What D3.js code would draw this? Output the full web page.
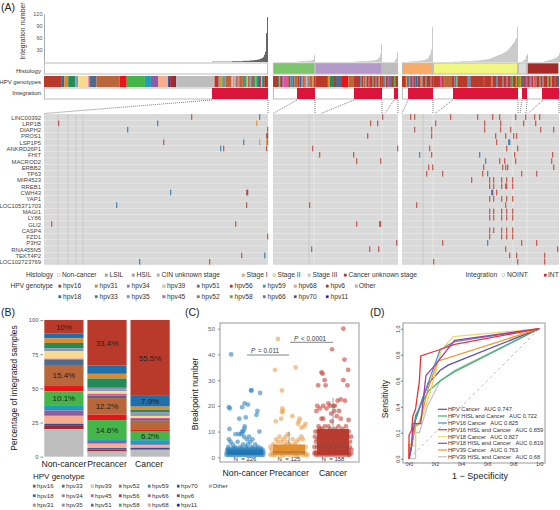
<!DOCTYPE html>
<html><head><meta charset="utf-8">
<script src="https://cdn.jsdelivr.net/npm/d3@7"></script>
<style>html,body{margin:0;padding:0;background:#fff}svg{display:block}text{font-family:"Liberation Sans",Arial,sans-serif;white-space:pre}</style>
</head><body><svg id="c" width="560" height="510"></svg>
<script>
// ---------- shared categories ----------
const genotypes=["16","18","31","33","34","35","39","45","51","52","56","58","59","66","68","70","6","11","Other"];
const genoColors=["#B93A2B","#1F6FAB","#DD8B2C","#238B57","#8E86B8","#7E9DB8","#FBD98C","#E0559B","#4F6B8C","#B9663A","#E8141A","#44B549","#1E9DB8","#8E5BA6","#F6AE8E","#3B4A94","#A32A2E","#1010DD","#BDBDBD"];
const rowNames=["LINC00392","LRP1B","DIAPH2","PROS1","LSP1P5","ANKRD26P1","FHIT","MACROD2","ERBB2","TP63","MIR4523","RREB1","CWH43","YAP1","LOC105371703","MAGI1","LY86","GLI2","CASP4","FZD1","P3H2","RNA455N5","TEKT4P2","LOC102723769"];
// Panel A: sample counts per group
const groupSizes=[224,125,157];
const histologySegs=[
 [["Non-cancer",224]],
 [["LSIL",42],["HSIL",67],["CIN",16]],
 [["Stage I",31],["Stage II",85],["Stage III",9],["Cancer unknown",32]]];
const histologyColors={"Non-cancer":"#FFFFFF","LSIL":"#7DC46C","HSIL":"#B39AC8","CIN":"#BDBDBD","Stage I":"#F8AC6C","Stage II":"#EFF781","Stage III":"#DCDCDC","Cancer unknown":"#A52A2A"};
const integrationSegs=[
 [[0,168],[1,56]],
 [[0,24],[1,18],[0,39],[1,28],[0,12],[1,4]],
 [[0,6],[1,25],[0,20],[1,65],[0,4],[1,5],[0,15],[1,17]]];
const genoStrip0=[["16",17],["18",3],["31",4],["33",7],["35",3],["39",10],["45",1],["51",7],["52",23],["56",7],["58",18],["59",6],["66",7],["68",10],["70",2],["6",5],["11",1],["Other",38],
 ["16",4],["51",1],["31",2],["58",1],["33",1],["16",1],["59",1],["52",6],["39",1],["45",1],["35",1],["68",1],["16",1],["51",1],["31",1],["66",1],["52",3],["16",1],["33",1],["18",1],["58",1],["68",1],["52",2],["35",1],["59",1],["16",1],["51",1],["33",1],["31",1],["58",1],["66",1],["18",1],["16",2],["68",1],["59",1],["33",1],["52",1],["6",1],["16",1],["18",1]];
const genoStrip1=[["16",5],["33",1],["31",1],["16",2],["66",1],["45",5],["16",2],["59",2],["51",2],["52",3],["16",2],["18",2],["66",1],["52",2],["16",1],["59",1],["68",1],["16",1],["51",1],["52",3],["31",1],["16",2],
 ["16",12],["31",2],["33",4],["16",2],["51",5],["56",7],["52",5],["16",7],["18",1],["16",2],["52",2],["59",1],["16",2],["56",1],["16",3],["33",1],["16",2],["51",1],["16",2],["31",1],["16",2],
 ["16",2],["18",1],["31",1],["16",2],["66",1],["16",1],["51",1],["18",1],["16",2],["58",1],["52",1],["16",2]];
const genoStrip2=[["16",3],["51",1],["31",1],["16",1],["18",1],["58",1],["16",2],["66",1],["16",2],["18",2],["16",3],["52",1],["59",1],["16",3],["33",1],["16",4],["51",1],["16",2],
 ["16",6],["45",2],["16",1],["66",1],["52",7],["16",3],["66",2],["58",1],["16",10],["18",1],["59",1],["51",1],["16",8],["18",1],["16",3],["33",1],["16",7],["52",1],["16",4],["18",1],["16",5],["51",1],["16",3],["66",1],["16",3],["18",1],["58",1],["16",3],["31",1],["16",1],
 ["58",2],["31",1],["51",2],["16",2],["18",1],["66",1],
 ["16",2],["18",1],["66",1],["16",2],["45",1],["56",1],["18",1],["16",3],["33",1],["16",2],["66",1],["16",4],["58",1],["16",2],["31",1],["16",3],["51",1],["16",2],["18",1]];
// Panel A top bars: [first sample, values]
const barsGroup0=[[168,[1,1,1,1,1,1,1,1,1,1,1,1,1,1,1,1,1,1,1,1,2,2,2,2,2,2,2,2,2,2,2,3,3,3,3,3,3,3,4,4,4,4,5,5,5,6,6,7,8,9,10,13,18,26,72,112]]];
const barsGroup1=[
 [24,[1,1,1,2,2,2,2,2,2,3,3,3,3,4,4,5,7,17]],
 [81,[1,1,1,1,1,2,2,2,2,2,2,2,2,3,3,3,3,3,4,4,4,5,6,7,9,12,20,45]],
 [121,[2,5,9,25]]];
const barsGroup2=[
 [6,[1,1,1,1,2,2,2,2,2,3,3,3,3,4,4,5,5,6,7,8,11,16,21,31,87]],
 [51,[1,1,1,1,1,1,1,1,2,2,2,2,2,2,2,2,2,2,3,3,3,3,3,3,4,4,4,4,5,5,5,6,6,6,7,7,8,9,10,11,12,13,14,15,16,17,18,19,20,21,23,24,25,27,29,31,34,37,40,44,47,50,56,60,87]],
 [120,[2,3,5,8,15,20]],
 [141,[1,2,2,3,3,4,5,5,6,7,8,9,10,11,13,15,22]]];
// Panel A matrix marks: [row, sample, genotype]
const marksGroup0=[[0,147,"16"],[0,215,"18"],[1,14,"16"],[1,113,"18"],[1,212,"31"],[2,83,"18"],[2,223,"16"],[3,222,"16"],[3,223,"70"],[4,119,"16"],[4,199,"18"],[4,215,"31"],[4,222,"31"],[4,223,"33"],[5,176,"18"],[5,179,"16"],[5,222,"16"],[12,126,"18"],[12,202,"16"],[12,203,"70"],[14,72,"18"],[14,202,"16"],[17,7,"16"],[17,191,"16"],[19,223,"16"],[22,197,"16"],[22,220,"18"],[23,95,"18"],[23,165,"16"]];
const marksGroup1=[[0,109,"16"],[1,97,"16"],[1,104,"16"],[3,94,"16"],[5,39,"16"],[5,124,"16"],[6,46,"16"],[6,80,"16"],[7,83,"16"],[7,107,"16"],[14,36,"16"],[17,83,"16"],[17,106,"16"],[17,107,"16"],[20,123,"16"],[21,38,"16"],[21,96,"16"],[21,105,"16"]];
const marksGroup2=[[0,8,"16"],[0,12,"16"],[0,48,"16"],[0,75,"16"],[0,90,"16"],[0,97,"16"],[0,113,"16"],[0,123,"16"],[0,132,"16"],[0,137,"16"],
 [1,33,"16"],[1,82,"16"],[1,98,"16"],[1,121,"16"],[1,133,"16"],
 [2,12,"16"],[2,29,"16"],[2,82,"16"],[2,98,"16"],[2,108,"16"],[2,138,"16"],[2,151,"16"],
 [3,29,"16"],[3,93,"16"],[3,103,"16"],[3,111,"16"],[3,114,"16"],
 [4,94,"16"],[4,106,"18"],[4,107,"18"],
 [5,27,"16"],[5,104,"16"],[5,115,"16"],
 [6,17,"18"],[6,29,"16"],[6,77,"18"],[6,112,"16"],[6,150,"16"],
 [7,83,"18"],[7,97,"16"],[7,102,"16"],[7,113,"16"],[7,149,"16"],
 [8,26,"16"],[8,30,"16"],[8,81,"16"],[8,100,"16"],[8,103,"16"],[8,105,"16"],[8,151,"16"],
 [9,24,"16"],[9,40,"16"],[9,80,"16"],[9,85,"18"],[9,119,"16"],[9,134,"16"],
 [10,69,"16"],[10,87,"16"],[10,91,"16"],[10,99,"16"],[10,104,"16"],[10,110,"16"],
 [11,87,"16"],[11,91,"16"],[11,99,"16"],[11,103,"16"],[11,104,"16"],[11,110,"16"],
 [12,89,"18"],[12,90,"70"],[12,94,"16"],
 [13,87,"16"],[13,91,"16"],[13,99,"16"],[13,104,"16"],[13,110,"16"],
 [14,14,"16"],[14,103,"16"],
 [15,87,"16"],[15,91,"16"],[15,99,"16"],[15,104,"16"],[15,110,"16"],
 [16,87,"16"],[16,91,"16"],[16,99,"16"],[16,104,"16"],[16,110,"16"],
 [18,87,"16"],[18,91,"16"],[18,99,"16"],[18,104,"16"],[18,110,"16"],
 [19,87,"16"],[19,99,"16"],[19,104,"16"],[19,110,"16"],
 [20,40,"16"],[20,85,"18"],[20,119,"16"],[20,134,"16"],
 [21,103,"16"],[21,155,"16"],
 [22,107,"16"],[22,114,"16"],[22,142,"16"],
 [23,31,"16"],[23,115,"16"],[23,142,"16"]];
// Panel B
const stageNames=["Non-cancer","Precancer","Cancer"];
const shareNonCancer=[10,3.4,3.4,3.9,1.2,1,5.4,.7,3.9,15.4,3.9,10.1,3.9,3.9,5.8,1,3,0,20.1];
const sharePrecancer=[33.4,6,3.4,6.8,1,1.4,2,1.4,1.7,12.2,3.9,14.6,.7,2,3.2,1,1.5,0,3.8];
const shareCancer=[55.5,7.9,2.3,1.8,1.2,1.5,1.5,.7,1.3,6.3,1.7,6.2,3,.8,1.8,1,.3,.2,5];
const shareLabels=[[0,"10"],[9,"15.4"],[11,"10.1"]];
const shareLabelsPre=[[0,"33.4"],[9,"12.2"],[11,"14.6"]];
const shareLabelsCan=[[0,"55.5"],[1,"7.9"],[11,"6.2"]];
// Panel C: [spread %, breakpoints]
const pointsNonCancer=[[-75,40],[35,26],[33,26],[82,25],[-2,21],[16,20.5],[-15,19.5],[-87,19.5],[-82,19],[67,18],[62,16.5],[-31,15],[4,15.5],[78,10],[-84,11],[-2,12],[-4,11],[-9,10],[-16,10],[-33,9],[-51,9],[22,8],[40,7],[-87,7],[-78,6],[-67,5],[-20,9],[-5,8],[10,7],[-40,6],[28,6],[55,5],[-10,5],[15,5],[-55,4],[-25,4],[5,4],[35,4],[70,4],[-90,4],[-65,3.5],[-45,3.5],[-18,3.5],[12,3.5],[42,3.5],[60,3.5],[85,3.5],[-92,3],
[-95,3],[-85,3],[-75,3],[-65,3],[-55,3],[-45,3],[-35,3],[-25,3],[-15,3],[-5,3],[5,3],[15,3],[25,3],[35,3],[45,3],[55,3],[65,3],[75,3],[85,3],[95,3],
[-98,2],[-88,2],[-78,2],[-68,2],[-58,2],[-48,2],[-38,2],[-28,2],[-18,2],[-8,2],[2,2],[12,2],[22,2],[32,2],[42,2],[52,2],[62,2],[72,2],[82,2],[92,2],[100,2],
[-100,1],[-90,1],[-80,1],[-70,1],[-60,1],[-50,1],[-40,1],[-30,1],[-20,1],[-10,1],[0,1],[10,1],[20,1],[30,1],[40,1],[50,1],[60,1],[70,1],[80,1],[90,1],[98,1]];
const pointsPrecancer=[[-60,46],[-76,34],[36,35],[-38,26],[-36,19],[-33,18],[-38,17.5],[18,16],[-42,15],[-71,14],[58,15],[53,14],[49,13],[89,13],[82,12],[67,11.5],[-5,9],[-18,8],[-51,8],[-69,7],[67,8],[53,7],[-30,7],[-60,6],[-40,6],[-10,6],[20,7],[40,6],[75,7],[-85,5],[-20,5],[5,5],[30,5],[-100,4],[-70,4],[-45,4],[-5,4],[60,4],[90,4],
[-95,3],[-55,3],[-30,3],[15,3],[45,3],[70,3],[-80,2],[-60,2],[-35,2],[-10,2],[20,2],[50,2],[80,2],[-90,1.5],[-65,1.5],[-40,1.5],[-15,1.5],[10,1.5],[35,1.5],[60,1.5],[85,1.5],[-100,1],[-75,1],[-50,1],[-25,1],[0,1],[25,1],[50,1],[75,1],[100,1],[-85,1],[-35,1],[40,1],[90,1]];
const pointsCancer=[[56,50],[-5,42],[62,38],[82,34],[-62,33],[-56,32.5],[-45,30],[-80,28],[-40,28],[56,30],[78,28],[42,22.5],[65,22],[25,22],[-25,21],[-53,20],[-71,19],[2,20],[7,18],[-16,20],[-62,15],[-53,15],[20,16],[42,15],[84,14.5],[-7,14],[-25,12],[-71,11],[-85,20],[-35,19],[10,20],[33,18],[-90,18],[-10,17],[-78,12],[-60,11],[-45,12],[-15,11],[12,11],[30,12],[50,11],[70,12],
[-95,10],[-80,10],[-65,10],[-50,9],[-35,10],[-20,9],[-5,10],[10,9],[25,10],[40,9],[55,10],[70,9],[85,10],[98,8],[-98,8],[-85,7],[-70,8],[-55,7],[-40,8],[-25,7],[-10,8],[5,7],[20,8],[35,7],[50,8],[65,7],[80,8],[92,6],[-92,6],[-75,5],[-60,6],[-45,5],[-30,6],[-15,5],[0,6],[15,5],[30,6],[45,5],[60,6],[75,5],[90,4],[-100,4],[-85,4],[-68,4],[-52,3],[-38,4],[-22,3],[-8,4],[8,3],[22,4],[38,3],[52,4],[68,3],[85,3],[100,3],[-95,2],[-78,2],[-62,2],[-46,2],[-30,2],[-14,2],[2,2],[18,2],[34,2],[50,2],[66,2],[82,2],[98,1.5],[-100,1.5],[-88,1.5],[-72,1.5],[-56,1.5],[-40,1.5],[-24,1.5],[-8,1.5],[8,1.5],[24,1.5],[40,1.5],[56,1.5],[72,1.5],[88,1],[-92,1],[-76,1],[-60,1],[-44,1],[-28,1],[-12,1],[4,1],[20,1],[36,1],[52,1],[68,1],[84,1]];
const boxStats=[[1,1.5,3,3.5],[1,2,5,10],[1,4,11,23]];
const countLabels=["226","125","158"];
// Panel D
const rocNames=["HPV Cancer   AUC 0.747","HPV HISL and Cancer   AUC 0.722","HPV16 Cancer   AUC 0.825","HPV16 HISL and Cancer   AUC 0.859","HPV18 Cancer   AUC 0.827","HPV18 HISL and Cancer   AUC 0.819","HPV39 Cancer   AUC 0.763","HPV39 HISL and Cancer   AUC 0.68"];
const rocColors=["#5B4FB5","#3CB371","#4A90C8","#E8343A","#E8D86A","#A040A8","#F0932B","#C4C4C4"];
const rocHpv=[[0,0],[.02,.1],[.03,.2],[.05,.3],[.1,.45],[.15,.58],[.24,.68],[.3,.72],[1,1]];
const rocHpvHisl=[[0,0],[.03,.15],[.05,.33],[.1,.43],[.15,.52],[.24,.6],[.35,.67],[1,1]];
const rocHpv16=[[0,0],[.02,.1],[.05,.3],[.1,.45],[.16,.62],[.24,.84],[.35,.9],[1,1]];
const rocHpv16Hisl=[[0,0],[0,.18],[.02,.22],[.03,.33],[.05,.38],[.08,.6],[.09,.79],[.24,.84],[.35,.88],[1,1]];
const rocHpv18=[[0,0],[0,.1],[.05,.1],[.05,.25],[.1,.32],[.16,.5],[.25,.84],[.34,.94],[1,1]];
const rocHpv18Hisl=[[0,0],[.02,.09],[.03,.27],[.09,.27],[.13,.64],[.2,.72],[.35,.91],[1,1]];
const rocHpv39=[[0,0],[0,.11],[.02,.11],[.05,.25],[.08,.27],[.15,.55],[.22,.75],[1,1]];
const rocHpv39Hisl=[[0,0],[.05,0],[.05,.2],[.08,.2],[.14,.4],[.24,.6],[.35,.68],[1,1]];
const rocCurves=[rocHpv,rocHpvHisl,rocHpv16,rocHpv16Hisl,rocHpv18,rocHpv18Hisl,rocHpv39,rocHpv39Hisl];
// Legends
const histLegend=[["Non-cancer",57.5],["LSIL",105],["HSIL",132],["CIN unknown stage",157],["Stage I",242],["Stage II",273],["Stage III",308],["Cancer unknown stage",344]];
const histLegendKeys=["Non-cancer","LSIL","HSIL","CIN","Stage I","Stage II","Stage III","Cancer unknown"];
const genoLegendRow1=["16","31","34","39","51","56","59","68","6","Other"];
const genoLegendRow2=["18","33","35","45","52","58","66","70","11"];
const genoLegendX=[58.5,95,127,162.6,197,230,263,294,326,355];
const bLegendRows=[["16","33","39","52","59","70","Other"],["18","34","45","56","66","6"],["31","35","51","58","68","11"]];
const bLegendX=[33,62,91,119,148,177,209];

// ---------- drawing ----------
const svg=d3.select("#c");
const col=d3.scaleOrdinal(genotypes,genoColors);
const gLabel=k=>k==="Other"?"Other":"hpv"+k;
const txt=(x,y,s,size,o={})=>svg.append("text").attr("x",x).attr("y",y).text(s).attr("font-size",size).attr("fill",o.fill||"#333").attr("text-anchor",o.anchor||"start").attr("transform",o.rot?`rotate(${o.rot} ${x} ${y})`:null).attr("font-style",o.style||null);
txt(1,11,"(A)",10.5,{fill:"#222"});txt(1,316,"(B)",10.5,{fill:"#222"});txt(185,316,"(C)",10.5,{fill:"#222"});txt(370,316,"(D)",10.5,{fill:"#222"});

// Panel A
const groupX=[[44,268],[273,398],[402,559]];
const sampleScales=groupX.map((r,i)=>d3.scaleLinear().domain([0,groupSizes[i]]).range(r));
const yTop=d3.scaleLinear().domain([0,120]).range([62,14]);
const tracks={hist:[63,74],geno:[76,87],integ:[88,99]};
[barsGroup0,barsGroup1,barsGroup2].forEach((g,i)=>{
 const sx=sampleScales[i];
 g.forEach(([s,vals])=>vals.forEach((v,j)=>{
  svg.append("rect").attr("x",sx(s+j)).attr("width",i===0?1:0.6).attr("y",yTop(v)).attr("height",yTop(0)-yTop(v))
   .attr("fill",i===0?"#666":"#a8a8a8");
 }));
});
const axT=svg.append("g").attr("transform","translate(44,0)").call(d3.axisLeft(yTop).tickValues([30,60,90,120]).tickSize(0));
axT.select(".domain").attr("stroke","#aaa");axT.selectAll("text").attr("font-size",5.5).attr("fill","#555").attr("dx",1.5);
txt(25,31,"Integration number",6.8,{anchor:"middle",rot:-90});
txt(41,72.5,"Histology",6.1,{anchor:"end"});txt(41,83.5,"HPV genotypes",6,{anchor:"end"});txt(41,94.5,"Integration",6.1,{anchor:"end"});
const stack=(segs)=>{let c=0;return segs.map(d=>{const o={k:d[0],a:c,b:c+d[1]};c+=d[1];return o;});};
histologySegs.forEach((segs,i)=>stack(segs).forEach(d=>{
 svg.append("rect").attr("x",sampleScales[i](d.a)+.4).attr("width",sampleScales[i](d.b)-sampleScales[i](d.a)-.8).attr("y",tracks.hist[0]).attr("height",11).attr("fill",histologyColors[d.k]).attr("stroke","#bbb").attr("stroke-width",1);
}));
[genoStrip0,genoStrip1,genoStrip2].forEach((st,i)=>{
 const segs=stack(st),tot=segs[segs.length-1].b;
 const sx=d3.scaleLinear().domain([0,tot]).range(groupX[i]);
 svg.selectAll(null).data(segs).enter().append("rect").attr("x",d=>sx(d.a)).attr("width",d=>sx(d.b)-sx(d.a)).attr("y",tracks.geno[0]).attr("height",11).attr("fill",d=>col(d.k));
});
integrationSegs.forEach((segs,i)=>{
 const sx=sampleScales[i];
 svg.append("rect").attr("x",groupX[i][0]+.4).attr("width",groupX[i][1]-groupX[i][0]-.8).attr("y",tracks.integ[0]).attr("height",11).attr("fill","#fff").attr("stroke","#bbb");
 stack(segs).filter(d=>d.k===1).forEach(d=>svg.append("rect").attr("x",sx(d.a)).attr("width",sx(d.b)-sx(d.a)).attr("y",tracks.integ[0]).attr("height",11).attr("fill","#DC143C"));
});
// connector lines between integrated blocks and matrix sections
const matrixEdges=[[[0,56]],[[0,42],[48,109],[112,125]],[[0,31],[33,116],[118,124],[126,157]]];
const intBlocks=[[[168,224]],[[24,42],[81,109],[121,125]],[[6,31],[51,116],[120,125],[141,157]]];
intBlocks.forEach((bl,i)=>{
 const sx=sampleScales[i];
 bl.forEach((b,j)=>{
  const m=matrixEdges[i][j],tot=i===0?56:groupSizes[i];
  const mx=d3.scaleLinear().domain([0,tot]).range(groupX[i]);
  [[b[0],m[0]],[b[1],m[1]]].forEach(([a,c])=>svg.append("line").attr("x1",sx(a)).attr("y1",100).attr("x2",mx(c)).attr("y2",113.5).attr("stroke","#444").attr("stroke-width",.7).attr("stroke-dasharray","1 1"));
 });
});
// matrix
const yRow=d3.scaleBand().domain(d3.range(rowNames.length)).range([114.2,265.2]);
rowNames.forEach((n,i)=>txt(41,yRow(i)+yRow.bandwidth()/2+2.2,n,5.9,{anchor:"end",fill:"#444"}));
const gridLines=[[14,24,32,39],[36,41,109],[21,31,111,125]];
groupX.forEach((r,i)=>{
 svg.append("rect").attr("x",r[0]).attr("width",r[1]-r[0]).attr("y",114.2).attr("height",151).attr("fill","#EDEDED");
 rowNames.forEach((n,ri)=>svg.append("rect").attr("x",r[0]).attr("width",r[1]-r[0]).attr("y",yRow(ri)).attr("height",yRow.bandwidth()-.6).attr("fill","#D9D9D9"));
 const sx=sampleScales[i];
 gridLines[i].forEach((g,k)=>{const light=(i>0&&k>0);svg.append("line").attr("x1",sx(g)).attr("x2",sx(g)).attr("y1",114).attr("y2",265).attr("stroke",light?"#F2F2F2":"#BDBDBD").attr("stroke-width",.6);});
});
[marksGroup0,marksGroup1,marksGroup2].forEach((g,i)=>{
 const sx=sampleScales[i];
 svg.selectAll(null).data(g).enter().append("rect").attr("x",d=>sx(d[1])).attr("width",1.3).attr("y",d=>yRow(d[0])).attr("height",yRow.bandwidth()-.6).attr("fill",d=>col(d[2])).attr("opacity",.75);
});
// Legends A
const sq=(x,y,c,st)=>svg.append("rect").attr("x",x).attr("y",y-2.6).attr("width",2.6).attr("height",2.6).attr("fill",c).attr("stroke",st||"#999").attr("stroke-width",.4);
txt(53,277,"Histology",6.6,{anchor:"end"});
histLegend.forEach((d,i)=>{sq(d[1],276.5,histologyColors[histLegendKeys[i]]);txt(d[1]+4.5,277,d[0],6.7);});
txt(465.5,277,"Integration",6.7);sq(502,276.5,"#fff");txt(507,277,"NOINT",6.7);sq(544,276.5,"#DC143C");txt(548,277,"INT",6.7);
txt(53,288,"HPV genotype",6.6,{anchor:"end"});
genoLegendRow1.forEach((k,i)=>{sq(genoLegendX[i],287.5,col(k));txt(genoLegendX[i]+(k==="Other"?3.7:4.5),288,gLabel(k),6.7);});
genoLegendRow2.forEach((k,i)=>{sq(genoLegendX[i],298,col(k));txt(genoLegendX[i]+4.5,298.5,gLabel(k),6.7);});

// Panel B
const xB=d3.scaleBand().domain(stageNames).range([43,171]).paddingInner(.09).paddingOuter(.03);
const yB=d3.scaleLinear().domain([0,100]).range([456.7,320]);
[shareNonCancer,sharePrecancer,shareCancer].forEach((vals,i)=>{
 const tot=d3.sum(vals);let c=0;
 const labels=[shareLabels,shareLabelsPre,shareLabelsCan][i];
 vals.forEach((v,j)=>{
  const top=100-c/tot*100,bot=100-(c+v)/tot*100;c+=v;
  svg.append("rect").attr("x",xB(stageNames[i])).attr("width",xB.bandwidth()).attr("y",yB(top)).attr("height",yB(bot)-yB(top)).attr("fill",genoColors[j]);
  const lab=labels.find(l=>l[0]===j);
  if(lab)txt(xB(stageNames[i])+xB.bandwidth()/2,yB((top+bot)/2)+2.8,lab[1]+"%",8,{anchor:"middle",fill:"#222"});
 });
 txt(xB(stageNames[i])+xB.bandwidth()/2+(i===2?-1:0),467,stageNames[i],8.7,{anchor:"middle",fill:"#222"});
});
const axB=svg.append("g").attr("transform","translate(43,0)").call(d3.axisLeft(yB).tickValues([0,25,50,75,100]).tickSize(2.5));
axB.select(".domain").remove();axB.selectAll("line").attr("stroke","#888");axB.selectAll("text").attr("font-size",5.8).attr("fill","#555").attr("dx",1);
txt(17,388,"Percentage of integrated samples",8.4,{anchor:"middle",rot:-90,fill:"#222"});
txt(33,479,"HPV genotype",8,{fill:"#222"});
bLegendRows.forEach((row,ri)=>row.forEach((k,i)=>{
 const y=[488,497.5,507][ri];sq(bLegendX[i],y-.5,col(k));txt(bLegendX[i]+(k==="Other"?3.5:4),y,gLabel(k),6.1);
}));

// Panel C
const xC=d3.scalePoint().domain(stageNames).range([245,333]);
const yC=d3.scaleLinear().domain([0,50]).range([457.3,328.7]);
svg.append("rect").attr("x",220).attr("y",323).attr("width",139).attr("height",139).attr("fill","#fff").attr("stroke","#999").attr("stroke-width",1);
const ptColors=["#2E86C1","#EBA04E","#C4453A"],boxColors=["#1F78B4","#DF8A25","#B5362A"];
[pointsNonCancer,pointsPrecancer,pointsCancer].forEach((pts,i)=>{
 const c=xC(stageNames[i]),b=boxStats[i],hw=16;
 const sp=d3.scaleLinear().domain([-100,100]).range([c-18.5,c+18.5]);
 svg.selectAll(null).data(pts).enter().append("circle").attr("cx",d=>sp(d[0])).attr("cy",d=>yC(d[1])).attr("r",2.4).attr("fill",ptColors[i]).attr("opacity",.6);
 svg.append("line").attr("x1",c).attr("x2",c).attr("y1",yC(b[2])).attr("y2",yC(b[3])).attr("stroke","#777").attr("stroke-width",.7);
 svg.append("rect").attr("x",c-(i===0?18:hw)).attr("width",2*(i===0?18:hw)).attr("y",yC(b[2])).attr("height",yC(b[0])-yC(b[2])).attr("fill",boxColors[i]).attr("opacity",.93);
 svg.append("line").attr("x1",c-hw).attr("x2",c+hw).attr("y1",yC(b[1])).attr("y2",yC(b[1])).attr("stroke","#555").attr("stroke-width",.5);
 txt(c,461,"N  = "+countLabels[i],6,{anchor:"middle",fill:"#333"});
 txt(c,476,stageNames[i],8.7,{anchor:"middle",fill:"#222"});
});
const axC=svg.append("g").attr("transform","translate(220,0)").call(d3.axisLeft(yC).tickValues([0,10,20,30,40,50]).tickSize(2));
axC.select(".domain").remove();axC.selectAll("line").attr("stroke","#888");axC.selectAll("text").attr("font-size",6.2).attr("fill","#666");
txt(198,394,"Breakpoint number",8.6,{anchor:"middle",rot:-90,fill:"#222"});
svg.append("line").attr("x1",247).attr("x2",289).attr("y1",355).attr("y2",355).attr("stroke","#666").attr("stroke-width",.8);
svg.append("line").attr("x1",290).attr("x2",333).attr("y1",342.3).attr("y2",342.3).attr("stroke","#666").attr("stroke-width",.8);
txt(251,353,"P",6.4,{style:"italic"});txt(258,353,"= 0.011",6.4);
txt(294,341,"P",6.4,{style:"italic"});txt(301,341,"< 0.0001",6.4);

// Panel D
const xD=d3.scaleLinear().domain([0,1]).range([409,539.3]);
const yD=d3.scaleLinear().domain([0,1]).range([458.7,328.7]);
svg.append("rect").attr("x",403).attr("y",323).attr("width",142).attr("height",140).attr("fill","#fff").attr("stroke","#999").attr("stroke-width",1);
svg.append("line").attr("x1",xD(0)).attr("y1",yD(0)).attr("x2",xD(1)).attr("y2",yD(1)).attr("stroke","#aaa").attr("stroke-width",.8).attr("stroke-dasharray","3 3");
const ln=d3.line().x(d=>xD(d[0])).y(d=>yD(d[1]));
[7,1,0,2,4,6,5,3].forEach(i=>svg.append("path").attr("d",ln(rocCurves[i])).attr("fill","none").attr("stroke",rocColors[i]).attr("stroke-width",1.3));
const axDx=svg.append("g").attr("transform","translate(0,463)").call(d3.axisBottom(xD).tickValues([0,.2,.4,.6,.8,1]).tickFormat(d3.format(".1f")).tickSize(2));
axDx.select(".domain").remove();axDx.selectAll("line").attr("stroke","#777");axDx.selectAll("text").attr("font-size",5.3).attr("fill","#444").attr("dy",-1.5).attr("y",4);
const axDy=svg.append("g").attr("transform","translate(403,0)").call(d3.axisLeft(yD).tickValues([0,.2,.4,.6,.8,1]).tickFormat(d3.format(".1f")).tickSize(2));
axDy.select(".domain").remove();axDy.selectAll("line").attr("stroke","#777");
axDy.selectAll("text").attr("font-size",5.3).attr("fill","#444").attr("text-anchor","middle").attr("x",0).attr("y",-3.5).attr("dy",0).attr("transform","rotate(-90)");
txt(480,479,"1 − Specificity",9,{anchor:"middle",fill:"#222"});
txt(388,399,"Sensitivity",8.5,{anchor:"middle",rot:-90,fill:"#222"});
rocNames.forEach((n,i)=>{
 const y=[409.3,416,423,429.7,436.7,443.3,450,456.7][i];
 svg.append("line").attr("x1",438).attr("x2",447).attr("y1",y).attr("y2",y).attr("stroke",rocColors[i]).attr("stroke-width",1.2);
 txt(448,y+1.9,n,5.7,{fill:"#333"});
});
</script></body></html>
